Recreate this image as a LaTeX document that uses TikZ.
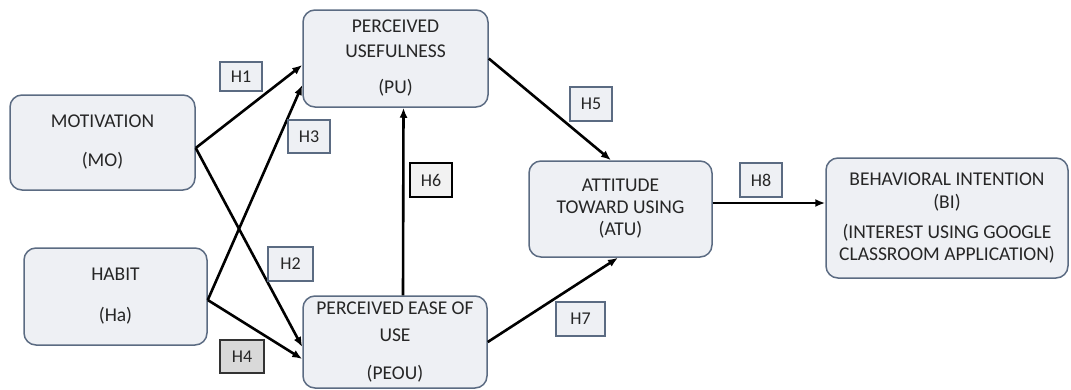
\documentclass[tikz,border=0pt]{standalone}
\usepackage{fontspec}
\setmainfont{Carlito}
\usepackage{xcolor}
\usetikzlibrary{arrows.meta}

\definecolor{cajafondo}{HTML}{EEF0F4}
\definecolor{cajaborde}{HTML}{5B6B82}
\definecolor{texto}{HTML}{262626}

\begin{document}
\begin{tikzpicture}[x=1pt,y=-1pt,
    caja/.style={draw=cajaborde, fill=cajafondo, line width=1.5pt, rounded corners=12pt,
        align=center, text=texto, inner sep=0pt, font=\fontsize{19.5}{23}\selectfont},
    hipo/.style={draw=cajaborde, fill=cajafondo, line width=1.5pt, minimum width=42pt,
        minimum height=33pt, inner sep=0pt, text=texto, font=\fontsize{18}{21}\selectfont},
    flecha/.style={line width=2.6pt, -{Latex[length=10pt,width=8pt]}}]

    \useasboundingbox (0,0) rectangle (1071,389);

    % Constructos
    \node[caja, minimum width=185pt, minimum height=95pt] (mo) at (102.5,142.5)
        {MOTIVATION\\[16pt](MO)};
    \node[caja, minimum width=183pt, minimum height=97pt] (ha) at (115.5,296.5)
        {HABIT\\[18pt](Ha)};
    \node[caja, minimum width=185pt, minimum height=97pt] (pu) at (395.5,58.5)
        {PERCEIVED\\[2pt]USEFULNESS\\[13pt](PU)};
    \node[caja, minimum width=184pt, minimum height=92pt] (peou) at (395,342)
        {PERCEIVED EASE OF\\[4pt]USE\\[15pt](PEOU)};
    \node[caja, minimum width=183pt, minimum height=96pt] (atu) at (620.5,209)
        {ATTITUDE\\[-1pt]TOWARD USING\\[-1pt](ATU)};
    \node[caja, minimum width=242pt, minimum height=120pt] (bi) at (947,218)
        {BEHAVIORAL INTENTION\\(BI)\\[7pt](INTEREST USING GOOGLE\\[-1pt]CLASSROOM APPLICATION)};

    % Hipotesis
    \draw[flecha] ([yshift=-5.5pt]mo.east) -- ([yshift=-6.5pt]pu.west);
    \draw[flecha] ([yshift=-5.5pt]mo.east) -- ([yshift=-5pt]peou.west);
    \draw[flecha] ([yshift=-3.5pt]ha.east) -- ([yshift=-26.5pt]pu.west);
    \draw[flecha] ([yshift=-3.5pt]ha.east) -- ([yshift=-17pt]peou.west);
    \draw[flecha] ([xshift=8pt]peou.north) -- ([xshift=8pt]pu.south);
    \draw[flecha] (pu.east) -- ([xshift=-9.5pt]atu.north);
    \draw[flecha] (peou.east) -- ([xshift=-2.5pt]atu.south);
    \draw[flecha] ([yshift=6pt]atu.east) -- ([yshift=15pt]bi.west);

    % Etiquetas
    \node[hipo, minimum height=29pt] (h1) at (241,76.5) {H1};
    \node[hipo, minimum width=45pt, minimum height=34pt] (h2) at (290.5,264) {H2};
    \node[hipo] (h3) at (309,136.5) {H3};
    \node[hipo, draw=black!80, fill=black!15, minimum width=44pt] (h4) at (242,356.5) {H4};
    \node[hipo, minimum height=34pt] (h5) at (591,104) {H5};
    \node[hipo, draw=black, fill=black!5, minimum height=34pt] (h6) at (431,180) {H6};
    \node[hipo, minimum width=49pt, minimum height=34pt] (h7) at (580.5,319) {H7};
    \node[hipo, minimum height=34pt] (h8) at (761,180) {H8};

\end{tikzpicture}
\end{document}
